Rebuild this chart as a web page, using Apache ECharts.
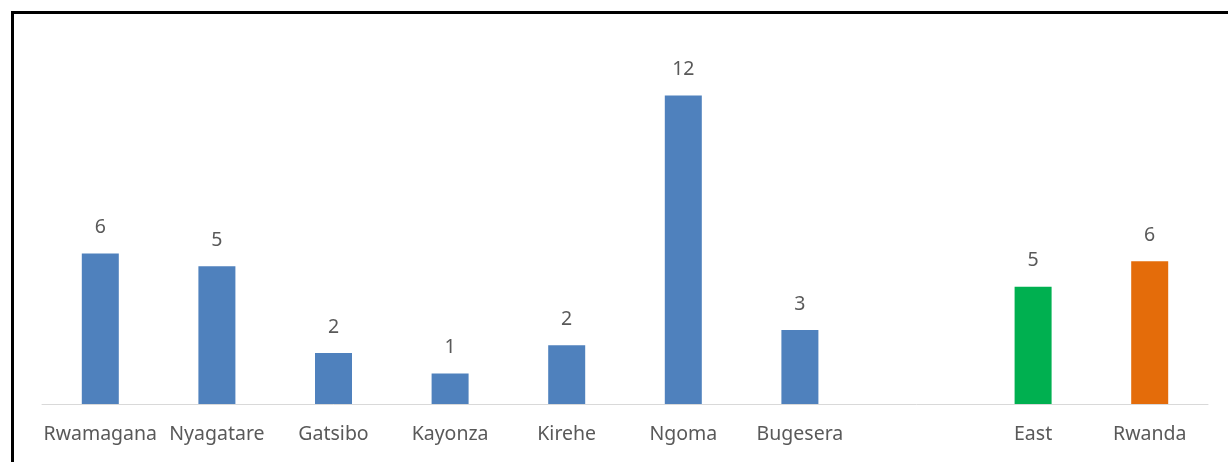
<!DOCTYPE html>
<html>
<head>
<meta charset="utf-8">
<script src="https://cdn.jsdelivr.net/npm/echarts@6/dist/echarts.min.js"></script>
<style>
html, body { margin: 0; padding: 0; background: #fff; }
#chart { width: 1228px; height: 462px; }
</style>
</head>
<body>
<div id="chart"></div>
<script>
// districts, a blank slot, then the province and national values
const categories = ['Rwamagana', 'Nyagatare', 'Gatsibo', 'Kayonza', 'Kirehe', 'Ngoma', 'Bugesera', '', 'East', 'Rwanda'];
const values = [5.9, 5.4, 2.0, 1.2, 2.3, 12.1, 2.9, null, 4.6, 5.6];
const barColors = ['#4F81BD', '#4F81BD', '#4F81BD', '#4F81BD', '#4F81BD', '#4F81BD', '#4F81BD', '#4F81BD', '#00B050', '#E46C0A'];

const font = '"Noto Sans", sans-serif';

const chart = echarts.init(document.getElementById('chart'));

const option = {
    animation: false,
    grid: {
        left: 42,
        right: 20,
        top: 47,
        bottom: 58
    },
    xAxis: {
        type: 'category',
        data: categories,
        axisLine: { lineStyle: { color: '#d9d9d9', width: 1 } },
        axisTick: { show: false },
        axisLabel: {
            color: '#595959',
            fontSize: 19.5,
            fontFamily: font,
            margin: 20,
            interval: 0
        }
    },
    yAxis: {
        type: 'value',
        min: 0,
        max: 14,
        show: false,
        splitLine: { show: false }
    },
    series: [
        {
            type: 'bar',
            barWidth: 37,
            data: values.map((v, i) => ({
                value: v,
                itemStyle: { color: barColors[i] }
            })),
            label: {
                show: true,
                position: 'top',
                distance: 16,
                color: '#595959',
                fontSize: 19.5,
                fontFamily: font,
                formatter: p => (p.value == null ? '' : Math.round(p.value))
            }
        }
    ],
    graphic: [
        {
            type: 'rect',
            shape: { x: 12.5, y: 12.5, width: 1300, height: 500 },
            style: { fill: 'none', stroke: '#000', lineWidth: 3 },
            silent: true
        }
    ]
};

chart.setOption(option);
</script>
</body>
</html>
